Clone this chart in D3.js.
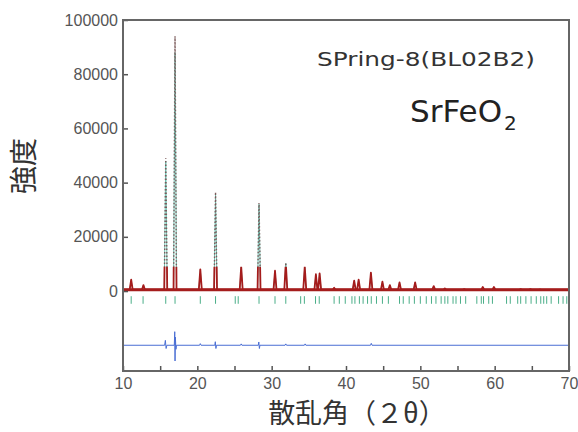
<!DOCTYPE html>
<html>
<head>
<meta charset="utf-8">
<script src="https://cdn.jsdelivr.net/npm/d3@7"></script>
<style>
  body { margin: 0; background: #fff; }
  svg { display: block; }
</style>
</head>
<body>
<div id="chart"></div>
<script>
// peak positions (2theta) and intensities
const peakPos  = [11.1, 12.75, 15.75, 17.0, 20.4, 22.45, 25.9, 28.3, 30.45, 31.9, 34.45, 35.95, 36.45, 38.4,
                  41.1, 41.7, 43.35, 44.9, 45.9, 47.2, 49.3, 51.8, 53.3, 55.9, 58.4, 59.9, 63.5, 64.8, 66.1, 67.5];
const peakObs  = [4200, 2200, 49000, 94000, 8000, 36500, 9000, 32500, 7500, 10500, 9000, 6200, 6500, 1200,
                  3800, 4200, 6800, 3500, 2200, 3200, 3200, 1800, 1000, 700, 1500, 1500, 700, 700, 600, 500];
const peakCalc = [4000, 2100, 48000, 88000, 7800, 35500, 8800, 32000, 7300, 10200, 8800, 6000, 6300, 1100,
                  3600, 4000, 6600, 3300, 2100, 3100, 3100, 1700, 950, 650, 1400, 1400, 650, 650, 550, 450];
const background = 500;

// Bragg reflection positions
const braggPos = [11.1, 12.7, 15.75, 17.0, 20.4, 22.45, 25.1, 25.5, 28.3, 30.45, 31.9, 33.9, 34.4, 35.9, 36.4,
                  38.4, 39.1, 39.9, 40.8, 41.2, 41.8, 42.3, 42.9, 43.4, 44.1, 44.9, 45.7, 47.2, 47.7, 48.5,
                  49.2, 50.0, 50.8, 51.5, 52.1, 52.8, 53.3, 53.7, 54.4, 54.8, 55.4, 56.1, 57.6, 58.2, 58.5,
                  59.2, 59.7, 61.6, 62.1, 63.1, 63.5, 64.2, 64.9, 65.6, 66.2, 66.6, 67.0, 67.6, 68.6, 69.2, 69.7];

// difference curve (obs - calc), drawn with an offset
const diffPos = [10, 15.6, 15.7, 15.8, 15.9, 16.9, 16.96, 17.0, 17.05, 17.12, 17.2, 20.3, 20.4, 20.5,
                 22.35, 22.42, 22.5, 22.58, 25.8, 25.9, 26.0, 28.2, 28.27, 28.35, 28.42, 31.8, 31.9, 32.0,
                 34.4, 34.5, 34.6, 43.3, 43.4, 43.5, 70];
const diffVal = [0, 0, 1800, -1200, 0, 0, 5000, -5800, 3000, -1500, 0, 0, 600, 0,
                 0, 1300, -1200, 0, 0, 500, 0, 0, 1200, -1200, 0, 0, 500, 0,
                 0, 500, 0, 0, 700, 0, 0];
const diffOffset = -20000;

const xTicks = [10, 15, 20, 25, 30, 35, 40, 45, 50, 55, 60, 65, 70];
const yTicks = [0, 20000, 40000, 60000, 80000, 100000];

const W = 578, H = 432;
const margin = {top: 20, right: 9, bottom: 61, left: 123},
    width = W - margin.left - margin.right,
    height = H - margin.top - margin.bottom;

const svg = d3.select("#chart")
  .append("svg")
    .attr("width", W)
    .attr("height", H);

const g = svg.append("g")
    .attr("transform", `translate(${margin.left},${margin.top})`);

const x = d3.scaleLinear().domain([10, 70]).range([0, width]);
const y = d3.scaleLinear().domain([-29500, 100000]).range([height, 0]);

// build profiles from the peak lists
function profile(heights) {
  const pts = [[10, background]];
  const hw = 0.2;
  peakPos.forEach((p, i) => {
    pts.push([p - hw, background], [p, heights[i]], [p + hw, background]);
  });
  pts.push([70, background]);
  return pts;
}

const line = d3.line().x(d => x(d[0])).y(d => y(d[1]));

// clip regions: solid red for low intensity, dotted above
const cut = 9000;
const defs = svg.append("defs");
defs.append("clipPath").attr("id", "low")
  .append("rect").attr("x", 0).attr("y", y(cut)).attr("width", width).attr("height", height - y(cut));
defs.append("clipPath").attr("id", "high")
  .append("rect").attr("x", 0).attr("y", 0).attr("width", width).attr("height", y(cut));

// calculated
g.append("path")
  .datum(profile(peakCalc))
  .attr("d", line)
  .attr("fill", "none")
  .attr("stroke", "#6cc0b0")
  .attr("stroke-width", 1);

// observed: baseline band, low part solid, high part dotted
g.append("line")
  .attr("x1", 0).attr("x2", width)
  .attr("y1", y(background)).attr("y2", y(background))
  .attr("stroke", "#a51c1c")
  .attr("stroke-width", 3);

g.append("path")
  .datum(profile(peakObs))
  .attr("d", line)
  .attr("clip-path", "url(#low)")
  .attr("fill", "none")
  .attr("stroke", "#a51c1c")
  .attr("stroke-width", 1.8)
  .attr("stroke-linejoin", "round");

g.append("path")
  .datum(profile(peakObs))
  .attr("d", line)
  .attr("clip-path", "url(#high)")
  .attr("fill", "none")
  .attr("stroke", "#7a5a5a")
  .attr("stroke-width", 1.4)
  .attr("stroke-dasharray", "1.5,2");

// Bragg ticks
g.selectAll(".bragg")
  .data(braggPos)
  .join("line")
    .attr("x1", d => x(d)).attr("x2", d => x(d))
    .attr("y1", y(-1900)).attr("y2", y(-4700))
    .attr("stroke", "#4aae88")
    .attr("stroke-width", 1);

// difference
g.append("path")
  .datum(diffPos.map((d, i) => [d, diffVal[i] + diffOffset]))
  .attr("d", line)
  .attr("fill", "none")
  .attr("stroke", "#4a6ed4")
  .attr("stroke-width", 1);

// axes
const xAxis = g.append("g")
  .attr("transform", `translate(0,${height})`)
  .call(d3.axisBottom(x).tickValues(xTicks).tickSizeInner(-5).tickSizeOuter(0).tickPadding(7)
    .tickFormat(d => d % 10 === 0 ? d : ""));
const yAxis = g.append("g")
  .call(d3.axisLeft(y).tickValues(yTicks).tickSizeInner(-5).tickSizeOuter(0).tickPadding(5)
    .tickFormat(d3.format("d")));

[xAxis, yAxis].forEach(a => {
  a.select(".domain").remove();
  a.selectAll(".tick line").attr("stroke", "#555").attr("stroke-width", 1.5);
  a.selectAll("text")
    .attr("fill", "#555")
    .style("font-family", "'Liberation Sans', Arial, sans-serif")
    .style("font-size", "16px");
});

// frame
g.append("rect")
  .attr("width", width).attr("height", height)
  .attr("fill", "none")
  .attr("stroke", "#666")
  .attr("stroke-width", 2);

// axis titles
svg.append("text")
  .attr("transform", "translate(34,166) rotate(-90)")
  .attr("text-anchor", "middle")
  .style("font-family", "'Noto Sans CJK JP', sans-serif")
  .style("font-size", "28px")
  .attr("fill", "#333")
  .text("強度");

svg.append("text")
  .attr("x", 357).attr("y", 423)
  .attr("text-anchor", "middle")
  .style("font-family", "'Noto Sans CJK JP', sans-serif")
  .style("font-size", "27px")
  .attr("fill", "#333")
  .text("散乱角（２θ）");

// annotations
svg.append("text")
  .attr("x", 317).attr("y", 66)
  .attr("textLength", 218).attr("lengthAdjust", "spacingAndGlyphs")
  .style("font-family", "'DejaVu Sans', sans-serif")
  .style("font-size", "20px")
  .attr("fill", "#333")
  .text("SPring-8(BL02B2)");

const formula = svg.append("text")
  .attr("x", 410).attr("y", 122)
  .style("font-family", "'DejaVu Sans', sans-serif")
  .style("font-size", "31px")
  .attr("fill", "#222");
formula.append("tspan").text("SrFeO");
formula.append("tspan").attr("dy", 8).attr("dx", 2).style("font-size", "20px").text("2");
</script>
</body>
</html>
